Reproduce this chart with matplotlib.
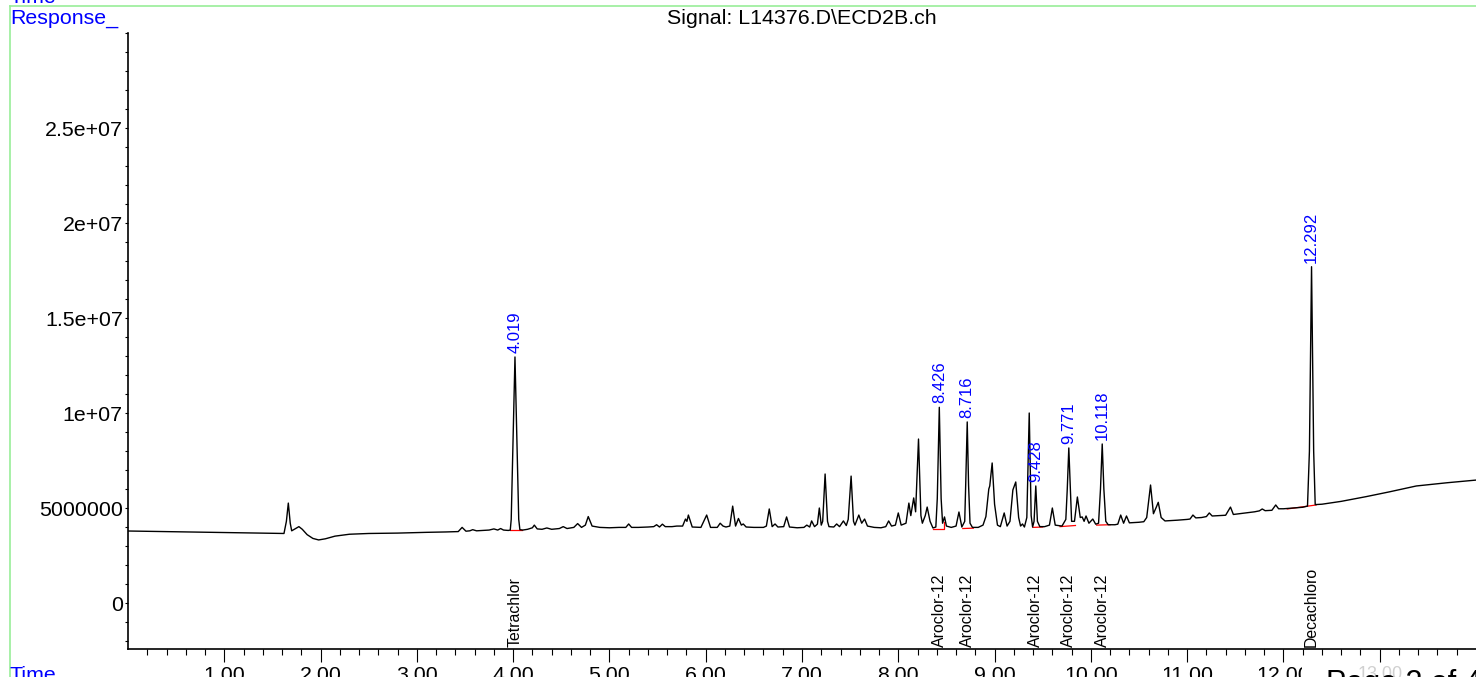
import matplotlib
matplotlib.use("Agg")
import matplotlib.pyplot as plt
from matplotlib.lines import Line2D
from matplotlib.patches import Rectangle
import numpy as np

plt.rcParams['font.family'] = ['Liberation Sans', 'DejaVu Sans']

# ---------------- data (time in min, response in units of 1e6 counts) ----------------
rt = [0.00, 0.50, 1.00, 1.50, 1.62, 1.645, 1.665, 1.685, 1.70, 1.74, 1.775, 1.81, 1.86, 1.92, 1.98,
      2.05, 2.15, 2.30, 2.50, 2.80, 3.10, 3.30, 3.43, 3.47, 3.51, 3.55, 3.58, 3.62, 3.75, 3.80, 3.84,
      3.87, 3.90, 3.95, 3.97, 3.98, 3.999, 4.019, 4.039, 4.058, 4.07, 4.10, 4.15, 4.20, 4.22, 4.25,
      4.30, 4.35, 4.40, 4.48, 4.52, 4.56, 4.63, 4.67, 4.71, 4.75, 4.78, 4.82, 4.90, 5.00, 5.10, 5.17,
      5.20, 5.23, 5.30, 5.40, 5.46, 5.49, 5.52, 5.55, 5.58, 5.65, 5.70, 5.76, 5.79, 5.805, 5.82, 5.86,
      5.95, 6.01, 6.05, 6.12, 6.15, 6.18, 6.21, 6.25, 6.28, 6.31, 6.34, 6.37, 6.39, 6.42, 6.50, 6.60,
      6.63, 6.66, 6.69, 6.72, 6.75, 6.81, 6.84, 6.87, 6.95, 7.02, 7.05, 7.08, 7.10, 7.13, 7.16, 7.18,
      7.20, 7.215, 7.24, 7.265, 7.28, 7.33, 7.36, 7.39, 7.43, 7.46, 7.48, 7.51, 7.535, 7.55, 7.59, 7.62,
      7.65, 7.68, 7.75, 7.82, 7.87, 7.90, 7.93, 7.97, 8.00, 8.03, 8.08, 8.11, 8.13, 8.16, 8.18, 8.21,
      8.235, 8.25, 8.28, 8.30, 8.33, 8.36, 8.39, 8.405, 8.426, 8.445, 8.46, 8.48, 8.50, 8.55, 8.60,
      8.63, 8.66, 8.69, 8.70, 8.716, 8.73, 8.745, 8.77, 8.83, 8.88, 8.91, 8.94, 8.95, 8.975, 9.00,
      9.03, 9.06, 9.10, 9.13, 9.16, 9.19, 9.22, 9.25, 9.27, 9.29, 9.31, 9.335, 9.36, 9.38, 9.395, 9.41,
      9.428, 9.445, 9.47, 9.52, 9.57, 9.60, 9.63, 9.70, 9.74, 9.755, 9.771, 9.787, 9.80, 9.83, 9.86,
      9.89, 9.91, 9.93, 9.95, 9.98, 10.02, 10.05, 10.08, 10.10, 10.118, 10.135, 10.155, 10.18, 10.25,
      10.28, 10.31, 10.34, 10.37, 10.40, 10.50, 10.55, 10.58, 10.62, 10.65, 10.68, 10.70, 10.73, 10.77,
      10.90, 11.00, 11.03, 11.06, 11.09, 11.15, 11.20, 11.23, 11.26, 11.40, 11.45, 11.48, 11.70, 11.75,
      11.78, 11.81, 11.88, 11.92, 11.95, 12.00, 12.10, 12.20, 12.25, 12.27, 12.292, 12.314, 12.33,
      12.40, 12.60, 12.86, 13.10, 13.38, 13.70, 14.00]
resp = [3.79, 3.75, 3.71, 3.67, 3.66, 4.30, 5.26, 4.20, 3.80, 3.92, 4.02, 3.88, 3.60, 3.40, 3.32,
        3.38, 3.52, 3.62, 3.66, 3.68, 3.72, 3.74, 3.76, 3.98, 3.78, 3.80, 3.86, 3.80, 3.84, 3.90, 3.84,
        3.92, 3.84, 3.82, 3.84, 4.40, 8.60, 12.95, 8.60, 4.40, 3.86, 3.84, 3.88, 3.96, 4.10, 3.90,
        3.88, 3.95, 3.88, 3.92, 4.02, 3.92, 3.98, 4.18, 3.98, 4.10, 4.55, 4.05, 3.98, 3.96, 3.98, 3.98,
        4.16, 3.98, 3.98, 4.00, 4.02, 4.12, 4.00, 4.15, 4.02, 4.02, 4.05, 4.05, 4.42, 4.30, 4.63, 4.00,
        3.98, 4.63, 3.98, 3.98, 4.20, 4.05, 4.00, 4.05, 5.10, 4.05, 4.45, 4.10, 4.16, 4.00, 3.98, 3.98,
        4.05, 4.95, 4.02, 4.16, 4.00, 4.02, 4.53, 4.00, 3.96, 3.98, 4.10, 4.00, 4.32, 4.02, 4.15, 5.00,
        4.10, 4.30, 6.79, 4.30, 4.02, 4.00, 4.16, 4.02, 4.32, 4.08, 4.40, 6.68, 4.30, 4.10, 4.63, 4.20,
        4.42, 4.05, 3.98, 3.96, 4.02, 4.32, 4.05, 4.10, 4.74, 4.10, 4.20, 5.26, 4.60, 5.53, 4.80, 8.63,
        4.60, 4.20, 4.60, 5.05, 4.30, 3.95, 4.00, 5.50, 10.30, 5.50, 4.20, 4.53, 4.05, 3.98, 4.05,
        4.79, 4.00, 4.30, 6.20, 9.53, 6.20, 4.20, 3.98, 3.98, 4.10, 4.55, 6.00, 6.16, 7.37, 5.20,
        4.10, 4.02, 4.74, 4.05, 4.30, 5.95, 6.37, 4.50, 4.05, 4.16, 4.00, 4.50, 10.00, 4.60, 4.00, 4.30,
        6.16, 4.30, 4.02, 4.02, 4.10, 5.00, 4.10, 4.05, 4.40, 6.00, 8.16, 6.00, 4.30, 4.30, 5.58,
        4.50, 4.53, 4.30, 4.58, 4.20, 4.42, 4.15, 4.20, 6.00, 8.37, 6.00, 4.30, 4.12, 4.12,
        4.15, 4.63, 4.20, 4.58, 4.22, 4.25, 4.28, 4.50, 6.21, 4.70, 5.05, 5.30, 4.50, 4.32,
        4.36, 4.40, 4.42, 4.63, 4.48, 4.50, 4.55, 4.74, 4.58, 4.62, 5.05, 4.66, 4.80, 4.85,
        4.95, 4.86, 4.88, 5.16, 4.96, 4.96, 5.00, 5.04, 5.10, 8.00, 17.70, 8.00, 5.18,
        5.20, 5.35, 5.60, 5.85, 6.16, 6.33, 6.47]

# labelled peaks
peak_rt = [4.019, 8.426, 8.716, 9.428, 9.771, 10.118, 12.292]
peak_top = [12.95, 10.30, 9.53, 6.16, 8.16, 8.37, 17.70]
peak_names = ["Tetrachlor", "Aroclor-12", "Aroclor-12", "Aroclor-12", "Aroclor-12", "Aroclor-12", "Decachloro"]

# integration baselines (red): list of (times, responses)
base_t = [[3.97, 4.09], [8.36, 8.47, 8.47], [8.67, 8.78], [9.40, 9.50], [9.68, 9.84], [10.06, 10.20], [12.04, 12.34]]
base_v = [[3.84, 3.84], [3.92, 3.92, 4.26], [3.92, 3.94], [3.98, 4.00], [4.02, 4.08], [4.10, 4.12], [4.95, 5.16]]

y_ticks = [0, 5e6, 1e7, 1.5e7, 2e7, 2.5e7]
y_ticklabels = ["0", "5000000", "1e+07", "1.5e+07", "2e+07", "2.5e+07"]
x_ticks = [1, 2, 3, 4, 5, 6, 7, 8, 9, 10, 11, 12, 13]
x_ticklabels = ["1.00", "2.00", "3.00", "4.00", "5.00", "6.00", "7.00", "8.00", "9.00", "10.00", "11.00", "12.00", ""]
faded_label = "13.00"
footer = "Page 2 of 4"

title = "Signal: L14376.D\\ECD2B.ch"

# ---------------- figure ----------------
W, H, DPI = 1476, 677, 100
fig = plt.figure(figsize=(W / DPI, H / DPI), dpi=DPI)
ax = fig.add_axes([128 / W, 28 / H, (W - 128) / W, (649 - 33) / H])

scale = 1e6
ax.plot(rt, np.array(resp) * scale, color='black', lw=1.0, zorder=3)
for bt, bv in zip(base_t, base_v):
    ax.plot(bt, np.array(bv) * scale, color='red', lw=0.9, zorder=2)

ax.set_xlim(0, 14.0)
ax.set_ylim(-2.42e6, 30.0e6)

for s in ['top', 'right']:
    ax.spines[s].set_visible(False)
for s in ['left', 'bottom']:
    ax.spines[s].set_linewidth(1.2)

ax.set_yticks(y_ticks)
ax.set_yticklabels(y_ticklabels)
ax.set_yticks(np.arange(-2e6, 30.5e6, 1e6), minor=True)
ax.set_xticks(x_ticks)
ax.set_xticklabels(x_ticklabels)
ax.set_xticks([v for v in np.arange(0.2, 14.0, 0.2) if abs(v - round(v)) > 1e-6], minor=True)

ax.tick_params(axis='x', which='major', length=9.4, width=0.8, direction='out', labelsize=15.4, pad=2.8)
ax.tick_params(axis='x', which='minor', length=4.3, width=0.8, direction='out')
ax.tick_params(axis='y', which='both', length=2.2, width=0.8, direction='out')
ax.tick_params(axis='y', which='major', labelsize=15.4, pad=1.5)

blue = '#0000ff'
ylo = ax.get_ylim()[0]
for t, top, name in zip(peak_rt, peak_top, peak_names):
    ax.annotate(f"{t:.3f}", xy=(t, top * scale), xytext=(0, 3), textcoords='offset points',
                rotation=90, ha='center', va='bottom', color=blue, fontsize=12)
    ax.annotate(name, xy=(t, ylo), xytext=(0, 1.5), textcoords='offset points',
                rotation=90, ha='center', va='bottom', color='black', fontsize=11.4)

fig.text(802 / W, 1 - 19 / H, title, ha='center', va='center', fontsize=15.4)
fig.text(10 / W, 1 - 19 / H, "Response_", ha='left', va='center', fontsize=15.4, color=blue)
fig.text(10 / W, 1 - 3 / H, "Time", ha='left', va='baseline', fontsize=15.4, color=blue)
fig.text(10 / W, 1 - 666 / H, "Time", ha='left', va='top', fontsize=15.4, color=blue)

green = '#98ee98'
fig.add_artist(Line2D([9.5 / W, 9.5 / W], [0, 1 - 6 / H], color=green, lw=1.2, transform=fig.transFigure))
fig.add_artist(Line2D([9.5 / W, 1], [1 - 6 / H, 1 - 6 / H], color=green, lw=1.2, transform=fig.transFigure))

# bottom-right overlay that hides part of the tick labels
fig.add_artist(Rectangle((1302 / W, 0), (W - 1302) / W, 14 / H, transform=fig.transFigure,
                         facecolor='white', edgecolor='none', zorder=5))
fig.text(1380 / W, 1 - 666 / H, faded_label, ha='center', va='top', fontsize=13, color='#d0d0d0', zorder=6)
fig.text(1326 / W, 1 - 669 / H, footer, ha='left', va='top', fontsize=22, color='black', zorder=6)

fig.savefig("out.png", dpi=DPI)
